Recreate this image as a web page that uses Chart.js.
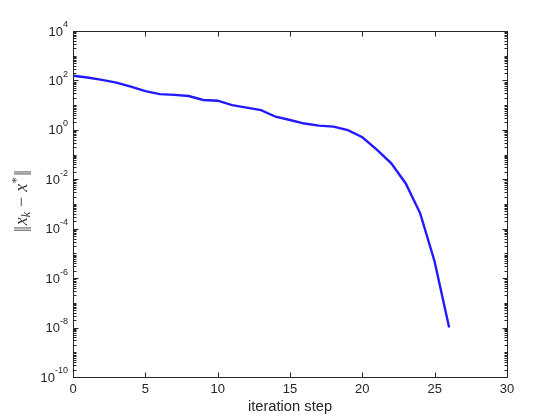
<!DOCTYPE html>
<html><head><meta charset="utf-8">
<script src="https://cdn.jsdelivr.net/npm/chart.js@4/dist/chart.umd.min.js"></script>
<style>html,body{margin:0;padding:0;background:#fff}canvas{display:block}</style>
</head><body>
<canvas id="c" width="560" height="420"></canvas>
<script>
// ---- data ----
const steps = [0,1,2,3,4,5,6,7,8,9,10,11,12,13,14,15,16,17,18,19,20,21,22,23,24,25,26];
const errors = [155,132,105,81,56,37,28,26,23.4,16.2,15.1,10,7.9,6.3,3.4,2.5,1.8,1.48,1.35,0.98,0.5,0.16,0.044,0.0068,4.2e-4,4.6e-6,1.0e-8];
const xTicks = [0,5,10,15,20,25,30];
const yExponents = [4,2,0,-2,-4,-6,-8,-10];
const xLabel = 'iteration step';

const AX = '#262626';
const FONT = "'Liberation Sans', Arial, sans-serif";
const SER = "'Liberation Serif', 'Times New Roman', serif";

const axesPlugin = {
  id: 'matlabAxes',
  afterDraw(chart) {
    const ctx = chart.ctx, a = chart.chartArea;
    const xs = chart.scales.x, ys = chart.scales.y;
    ctx.save();
    ctx.strokeStyle = AX; ctx.lineWidth = 1;
    const L = Math.round(a.left) + 0.5, R = Math.round(a.right) + 0.5;
    const T = Math.round(a.top) + 0.5, B = Math.round(a.bottom) + 0.5;
    ctx.strokeRect(L, T, R - L, B - T);
    ctx.beginPath();
    xTicks.forEach(v => {
      const px = Math.round(xs.getPixelForValue(v)) + 0.5;
      ctx.moveTo(px, B); ctx.lineTo(px, B - 5);
      ctx.moveTo(px, T); ctx.lineTo(px, T + 5);
    });
    for (let d = -10; d <= 4; d++) {
      for (let m = 1; m <= 9; m++) {
        if (d === 4 && m > 1) break;
        const v = m * Math.pow(10, d);
        const py = Math.round(ys.getPixelForValue(v)) + 0.5;
        const len = (m === 1 && yExponents.includes(d)) ? 5 : 3;
        ctx.moveTo(L, py); ctx.lineTo(L + len, py);
        ctx.moveTo(R, py); ctx.lineTo(R - len, py);
      }
    }
    ctx.stroke();
    // y tick labels 10^e
    ctx.fillStyle = AX;
    ctx.textBaseline = 'middle';
    ctx.textAlign = 'left';
    yExponents.forEach(e => {
      const py = ys.getPixelForValue(Math.pow(10, e));
      const es = String(e);
      ctx.font = '9px ' + FONT;
      const ew = ctx.measureText(es).width;
      ctx.font = '13px ' + FONT;
      const bw = ctx.measureText('10').width;
      const right = a.left - 5;
      ctx.fillText('10', right - ew - bw, py + 1);
      ctx.font = '9px ' + FONT;
      ctx.fillText(es, right - ew, py - 6);
    });
    // y axis title ||x_k - x^*||
    ctx.translate(26.5, (a.top + a.bottom) / 2 - 3);
    ctx.rotate(-Math.PI / 2);
    const parts = [
      {t: '|', f: '18px ' + SER, dy: 0, gap: -1.5},
      {t: '|', f: '18px ' + SER, dy: 0, gap: 1},
      {t: 'x', f: 'italic 18px ' + SER, dy: 0, gap: 0},
      {t: 'k', f: 'italic 12px ' + SER, dy: 3, gap: 5},
      {t: '\u2212', f: '18px ' + SER, dy: 0, gap: 5},
      {t: 'x', f: 'italic 18px ' + SER, dy: 0, gap: 0.5},
      {t: '*', f: '12px ' + SER, dy: -7, gap: 1.5},
      {t: '|', f: '18px ' + SER, dy: 0, gap: -1.5},
      {t: '|', f: '18px ' + SER, dy: 0, gap: 0}
    ];
    let total = 0;
    parts.forEach(p => { ctx.font = p.f; p.w = ctx.measureText(p.t).width; total += p.w + p.gap; });
    let x = -total / 2;
    ctx.fillStyle = '#3a3a3a';
    ctx.textBaseline = 'alphabetic';
    parts.forEach(p => { ctx.font = p.f; ctx.fillText(p.t, x, p.dy); x += p.w + p.gap; });
    ctx.restore();
  }
};

new Chart(document.getElementById('c'), {
  type: 'line',
  data: {
    datasets: [{
      data: steps.map((s, i) => ({x: s, y: errors[i]})),
      borderColor: 'rgb(35,25,255)',
      borderWidth: 2.4,
      pointRadius: 0,
      tension: 0,
      fill: false
    }]
  },
  options: {
    responsive: false,
    animation: false,
    devicePixelRatio: 1,
    layout: {padding: {top: 31, right: 53, left: 0, bottom: 0}},
    plugins: {legend: {display: false}, tooltip: {enabled: false}},
    scales: {
      x: {
        type: 'linear', min: 0, max: 30,
        grid: {display: false, drawTicks: false},
        border: {display: false},
        ticks: {stepSize: 5, color: AX, font: {family: FONT, size: 13}, padding: 5, maxRotation: 0},
        title: {display: true, text: xLabel, color: AX, font: {family: FONT, size: 14.7}, padding: {top: 0, bottom: 4}},
        afterFit(s) { s.height = 43; }
      },
      y: {
        type: 'logarithmic', min: 1e-10, max: 1e4,
        grid: {display: false, drawTicks: false},
        border: {display: false},
        ticks: {display: false},
        afterFit(s) { s.width = 73; }
      }
    }
  },
  plugins: [axesPlugin]
});
</script>
</body></html>
